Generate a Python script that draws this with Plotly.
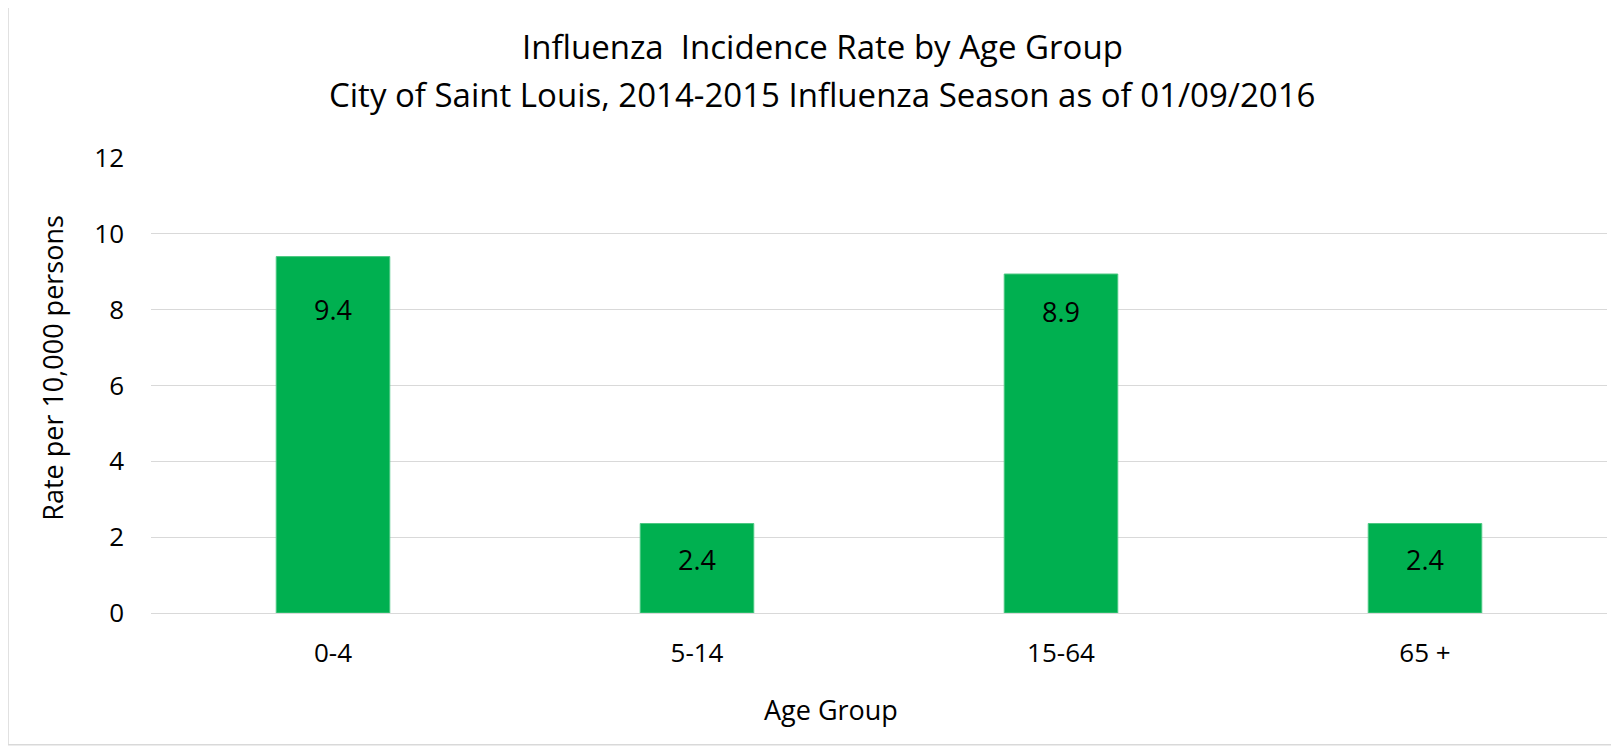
import plotly.graph_objects as go

categories = ["0-4", "5-14", "15-64", "65 +"]
rates = [9.40, 2.36, 8.94, 2.36]
label_shift = [-53, -36, -37, -36]
y_ticks = [0, 2, 4, 6, 8, 10, 12]
title_line1 = "Influenza  Incidence Rate by Age Group"
title_line2 = "City of Saint Louis, 2014-2015 Influenza Season as of 01/09/2016"
x_title = "Age Group"
y_title = "Rate per 10,000 persons"

FONT = "Open Sans"
BAR_COLOR = "#00b050"
GRID = "#d9d9d9"

fig = go.Figure()
fig.add_trace(go.Bar(
    x=categories, y=rates,
    marker=dict(color=BAR_COLOR, line=dict(color="#4cc882", width=1)),
    width=0.312,
    hoverinfo="skip",
))

annotations = []
for c, v, s in zip(categories, rates, label_shift):
    annotations.append(dict(
        x=c, y=v, xref="x", yref="y", text=f"{v:.1f}", showarrow=False,
        yshift=s, font=dict(family=FONT, size=27, color="#000000"),
        xanchor="center", yanchor="middle",
    ))

annotations += [
    dict(text=title_line1, x=0.461, y=1.2457, xref="paper", yref="paper",
         showarrow=False, xanchor="center", yanchor="middle",
         font=dict(family=FONT, size=33, color="#000000")),
    dict(text=title_line2, x=0.461, y=1.139, xref="paper", yref="paper",
         showarrow=False, xanchor="center", yanchor="middle",
         font=dict(family=FONT, size=33, color="#000000")),
    dict(text=x_title, x=0.467, y=-0.2125, xref="paper", yref="paper",
         showarrow=False, xanchor="center", yanchor="middle",
         font=dict(family=FONT, size=27, color="#000000")),
    dict(text=y_title, x=-0.0673, y=0.539, xref="paper", yref="paper",
         showarrow=False, xanchor="center", yanchor="middle", textangle=-90,
         font=dict(family=FONT, size=27, color="#000000")),
]

fig.update_layout(
    width=1611, height=740,
    margin=dict(l=143, r=12, t=150, b=135),
    paper_bgcolor="white", plot_bgcolor="white",
    showlegend=False,
    annotations=annotations,
    shapes=[dict(type="rect", xref="paper", yref="paper",
                 x0=-0.0982, x1=1.0062, y0=-0.2895, y1=1.3325,
                 line=dict(color=GRID, width=1.5), layer="below")],
    xaxis=dict(
        showgrid=False, showline=False, zeroline=False, ticks="",
        tickfont=dict(family=FONT, size=26, color="#000000"),
        ticklabelstandoff=22,
    ),
    yaxis=dict(
        range=[0, 12], tickvals=y_ticks, showgrid=True, gridcolor=GRID, gridwidth=1,
        zeroline=True, zerolinecolor=GRID, zerolinewidth=1, showline=False, ticks="",
        tickfont=dict(family=FONT, size=26, color="#000000"),
        ticklabelstandoff=26,
    ),
)

fig.write_html("out.html")
